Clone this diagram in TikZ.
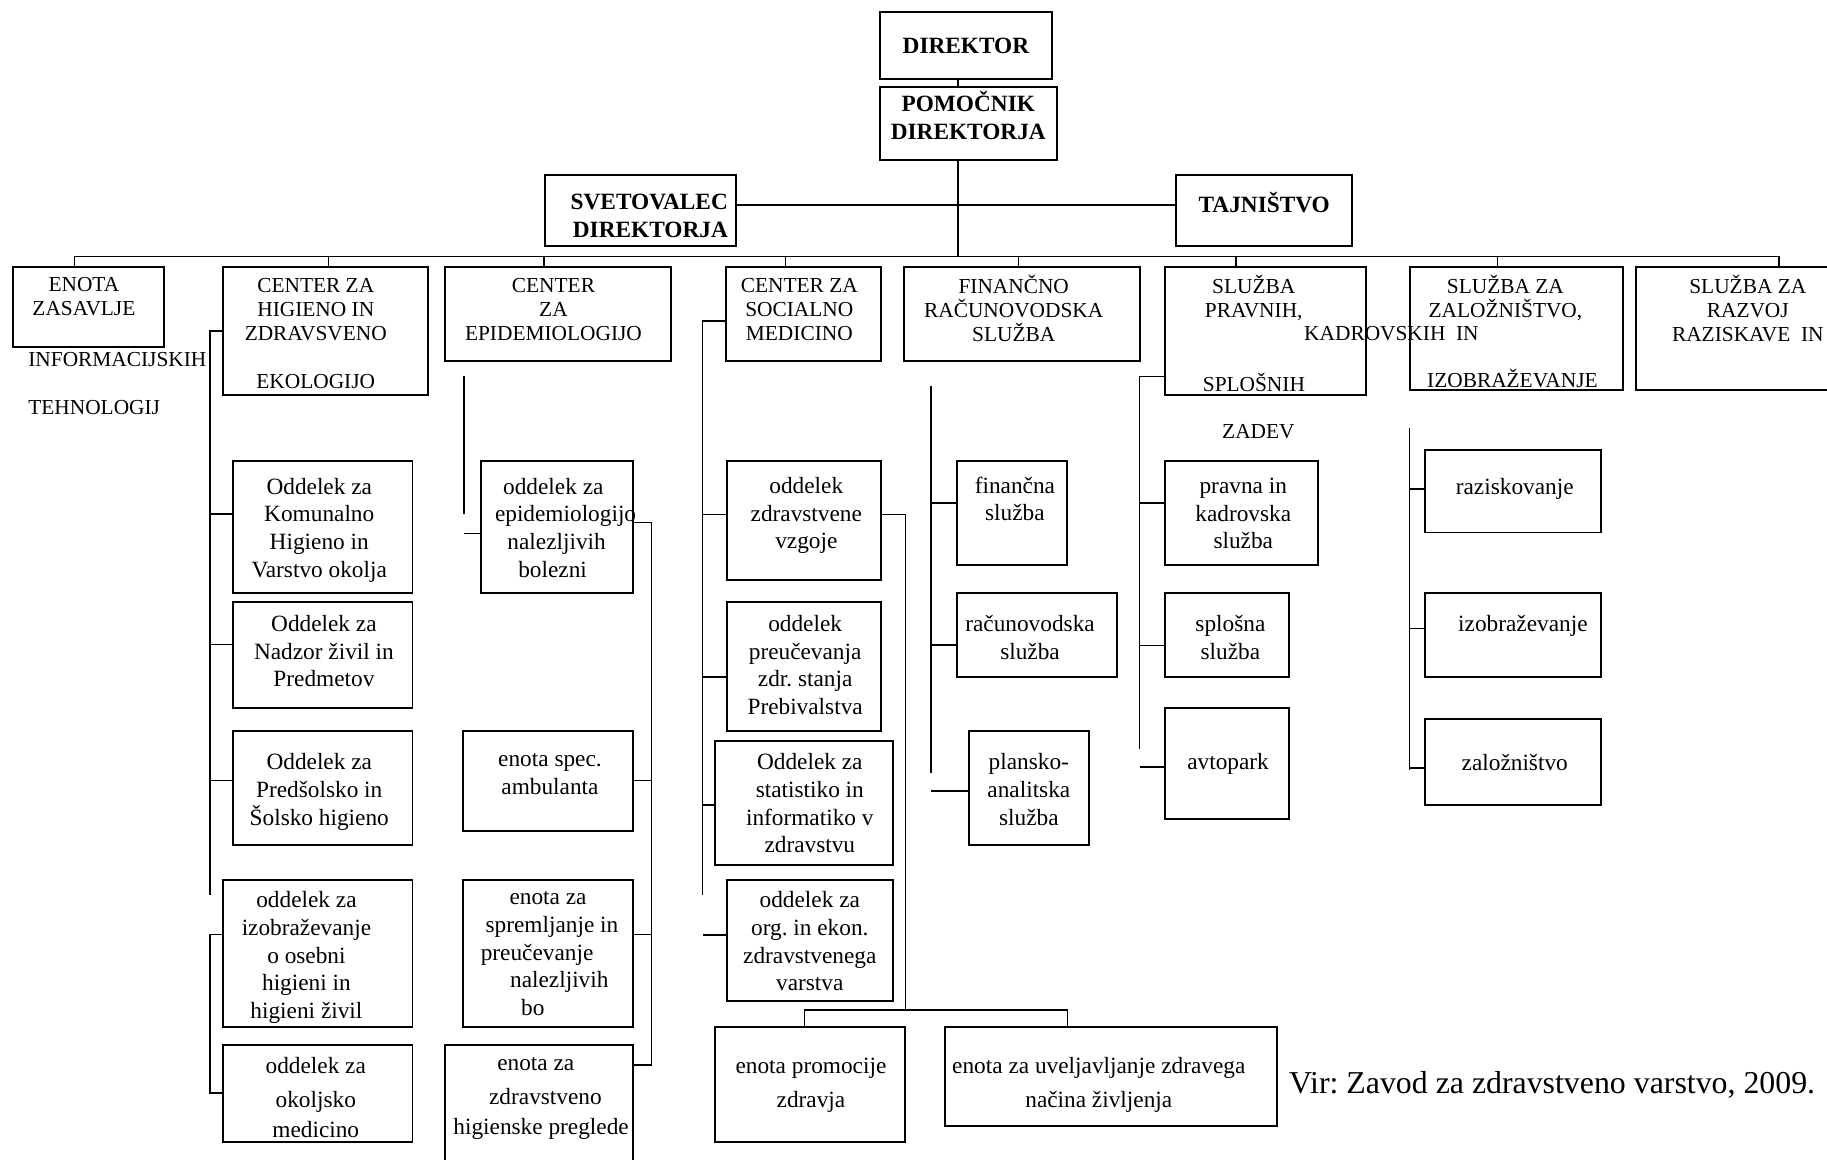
\documentclass[tikz,border=0pt]{standalone}
\usepackage{fontspec}
\setmainfont{Liberation Serif}
\usepackage{tikz}
\usetikzlibrary{positioning}
\frenchspacing
\tikzset{
    orgbox/.style = {rectangle, draw=black, line width=1pt, inner sep=0pt},
    txt/.style = {align=center, inner sep=0pt, anchor=north, font=\fontsize{12}{14.2}\selectfont},
    htxt/.style = {align=center, inner sep=0pt, anchor=north, font=\fontsize{11}{12.3}\selectfont},
    btxt/.style = {align=center, inner sep=0pt, anchor=north, font=\fontsize{12}{14.4}\selectfont\bfseries},
}

\begin{document}
\begin{tikzpicture}[
	x=0.6pt,
	y=-0.6pt
]
\tikzset{
    ln/.style = {-, line width=0.8pt}
}
\useasboundingbox (0,0) rectangle (1568,995);
% top
\node[orgbox, minimum width=88.8pt, minimum height=34.8pt] at (829,39) (dir) {};
\node[orgbox, minimum width=91.2pt, minimum height=37.2pt] at (831,106) (pom) {};
\node[orgbox, minimum width=98.4pt, minimum height=36.6pt] at (550,180.5) (svet) {};
\node[orgbox, minimum width=90.6pt, minimum height=36.6pt] at (1084.5,180.5) (tajn) {};
\node[btxt] at (829,32) (dirt) {DIREKTOR};
\node[btxt] at (831,78) (pomt) {POMOČNIK\\DIREKTORJA};
\node[btxt, align=right, anchor=north east] at (625,166) (svett) {SVETOVALEC\\DIREKTORJA};
\node[btxt] at (1085,165) (tajnt) {TAJNIŠTVO};
%
\node[orgbox, minimum width=78pt, minimum height=41.4pt] at (76,263.5) (enota) {};
\node[orgbox, minimum width=105.6pt, minimum height=66pt] at (279,284) (chig) {};
\node[orgbox, minimum width=116.4pt, minimum height=48.6pt] at (479,269.5) (cepi) {};
\node[orgbox, minimum width=79.8pt, minimum height=48.6pt] at (689.5,269.5) (csoc) {};
\node[orgbox, minimum width=121.2pt, minimum height=48.6pt] at (877,269.5) (fin) {};
\node[orgbox, minimum width=103.2pt, minimum height=66pt] at (1086,284) (prav) {};
\node[orgbox, minimum width=109.8pt, minimum height=63.6pt] at (1301.5,282) (zal) {};
\node[orgbox, minimum width=111.6pt, minimum height=63.6pt] at (1497,282) (razv) {};
%
\node[htxt] at (72,238) (enotat) {ENOTA\\ZASAVLJE};
\node[htxt, align=left, anchor=north west] at (24,302) (enotax) {INFORMACIJSKIH\\[12.3pt]TEHNOLOGIJ};
\node[htxt] at (271,238.6) (chigt) {CENTER ZA\\HIGIENO IN\\ZDRAVSVENO\\[12.3pt]EKOLOGIJO};
\node[htxt] at (475,238.6) (cepit) {CENTER\\ZA\\EPIDEMIOLOGIJO};
\node[htxt] at (686,238.6) (csoct) {CENTER ZA\\SOCIALNO\\MEDICINO};
\node[htxt] at (870,236) (fint) {FINANČNO\\RAČUNOVODSKA\\SLUŽBA};
\node[htxt] at (1076,236) (pravt) {SLUŽBA\\PRAVNIH,};
\node[htxt, anchor=north west] at (1119,279.6) (pravk) {KADROVSKIH\ \ IN};
\node[htxt, anchor=north west] at (1032,320) (pravs) {SPLOŠNIH};
\node[htxt] at (1080,363.6) (pravz) {ZADEV};
\node[htxt] at (1292,236) (zalt) {SLUŽBA ZA\\ZALOŽNIŠTVO,};
\node[htxt] at (1298,316.5) (zali) {IZOBRAŽEVANJE};
\node[htxt] at (1500,236) (razvt) {SLUŽBA ZA\\RAZVOJ\\RAZISKAVE\ \ IN};
% higiena
\node[orgbox, minimum width=92.4pt, minimum height=67.8pt] at (277,452.5) (hig1) {};
\node[orgbox, minimum width=92.4pt, minimum height=54.6pt] at (277,562.5) (hig2) {};
\node[orgbox, minimum width=92.4pt, minimum height=58.8pt] at (277,676) (hig3) {};
\node[orgbox, minimum width=97.8pt, minimum height=75.6pt] at (272.5,818) (hig4) {};
\node[orgbox, minimum width=97.8pt, minimum height=49.8pt] at (272.5,938.5) (hig5) {};
\node[txt] at (274,410) (hig1t) {Oddelek za\\Komunalno\\Higieno in\\Varstvo okolja};
\node[txt] at (278,528) (hig2t) {Oddelek za\\Nadzor živil in\\Predmetov};
\node[txt] at (274,646.6) (hig3t) {Oddelek za\\Predšolsko in\\Šolsko higieno};
\node[txt] at (263,765) (hig4t) {oddelek za\\izobraževanje\\o osebni\\higieni in\\higieni živil};
\node[txt] at (271,907.5) (hig5t) {oddelek za\\[3.2pt]okoljsko\\[1pt]medicino};
% epidemiologija
\node[orgbox, minimum width=78pt, minimum height=67.8pt] at (478,452.5) (epi1) {};
\node[orgbox, minimum width=87.6pt, minimum height=51.6pt] at (470,670) (epi2) {};
\node[orgbox, minimum width=87.6pt, minimum height=75.6pt] at (470,818) (epi3) {};
\node[orgbox, minimum width=96.6pt, minimum height=67.8pt] at (462.5,953.5) (epi4) {};
\node[txt, align=left, anchor=north west] at (424.5,410) (epi1t) {\hspace{4.2pt}oddelek za\\epidemiologijo\\\hspace{6.4pt}nalezljivih\\\hspace{12pt}bolezni};
\node[txt] at (472,646.6) (epi2t) {enota spec.\\ambulanta};
\node[txt, align=left, anchor=north west] at (412.3,765) (epi3t) {\hspace{14.8pt}enota za\\\hspace{2.5pt}spremljanje in\\preučevanje\\\hspace{15.1pt}nalezljivih\\\hspace{20.8pt}bo};
\node[txt, align=left, anchor=north west] at (388.8,907.5) (epi4t) {\hspace{22.6pt}enota za\\[3.2pt]\hspace{18.4pt}zdravstveno\\[1pt]higienske preglede};
% socialna medicina
\node[orgbox, minimum width=79.2pt, minimum height=61.2pt] at (690,447) (soc1) {};
\node[orgbox, minimum width=79.2pt, minimum height=66pt] at (690,572) (soc2) {};
\node[orgbox, minimum width=91.2pt, minimum height=63.6pt] at (690,689) (soc3) {};
\node[orgbox, minimum width=85.2pt, minimum height=62.4pt] at (695,807) (soc4) {};
\node[orgbox, minimum width=97.8pt, minimum height=59.4pt] at (695.5,930.5) (soc5) {};
\node[orgbox, minimum width=171pt, minimum height=51pt] at (953.5,923.5) (soc6) {};
\node[txt] at (692,409.3) (soc1t) {oddelek\\zdravstvene\\vzgoje};
\node[txt] at (691,528) (soc2t) {oddelek\\preučevanja\\zdr. stanja\\Prebivalstva};
\node[txt] at (695,646.6) (soc3t) {Oddelek za\\statistiko in\\informatiko v\\zdravstvu};
\node[txt] at (695,765) (soc4t) {oddelek za\\org. in ekon.\\zdravstvenega\\varstva};
\node[txt] at (696,907.5) (soc5t) {enota promocije\\[3.2pt]zdravja};
\node[txt] at (943,907.5) (soc6t) {enota za uveljavljanje zdravega\\[3.2pt]načina življenja};
% finance
\node[orgbox, minimum width=57pt, minimum height=53.4pt] at (868.5,440.5) (fin1) {};
\node[orgbox, minimum width=82.8pt, minimum height=43.2pt] at (890,545) (fin2) {};
\node[orgbox, minimum width=61.8pt, minimum height=58.8pt] at (883.5,676) (fin3) {};
\node[txt] at (871,409) (fin1t) {finančna\\služba};
\node[txt] at (884,528) (fin2t) {računovodska\\služba};
\node[txt] at (883,646.6) (fin3t) {plansko-\\analitska\\služba};
% pravna sluzba
\node[orgbox, minimum width=78.6pt, minimum height=53.4pt] at (1065.5,440.5) (prav1) {};
\node[orgbox, minimum width=63.6pt, minimum height=43.2pt] at (1053,545) (prav2) {};
\node[orgbox, minimum width=63.6pt, minimum height=57pt] at (1053,655.5) (prav3) {};
\node[txt] at (1067,410) (prav1t) {pravna in\\kadrovska\\služba};
\node[txt] at (1056,528) (prav2t) {splošna\\služba};
\node[txt] at (1054,646.6) (prav3t) {avtopark};
% zaloznistvo
\node[orgbox, minimum width=90.6pt, minimum height=42.6pt] at (1298.5,421.5) (zal1) {};
\node[orgbox, minimum width=90.6pt, minimum height=43.2pt] at (1298.5,545) (zal2) {};
\node[orgbox, minimum width=90.6pt, minimum height=44.4pt] at (1298.5,654) (zal3) {};
\node[txt] at (1300,410) (zal1t) {raziskovanje};
\node[txt] at (1307,528) (zal2t) {izobraževanje};
\node[txt] at (1300,646.6) (zal3t) {založništvo};
%
\node[anchor=west, inner sep=0pt, font=\fontsize{16.4}{19}\selectfont] at (1106,931) (vir) {Vir: Zavod za zdravstveno varstvo, 2009.};
% points on the lines
\coordinate (trunk) at (822,220);
\coordinate (side) at (822,176);
\coordinate (b1) at (64,220);
\coordinate (b2) at (282,220);
\coordinate (b3) at (467,220);
\coordinate (b4) at (674,220);
\coordinate (b5) at (874,220);
\coordinate (b6) at (1061,220);
\coordinate (b7) at (1285,220);
\coordinate (b8) at (1527,220);
%
\draw[ln] (dir.south -| trunk) -- (pom.north -| trunk);
\draw[ln] (pom.south -| trunk) -- (trunk);
\draw[ln] (svet.east |- side) -- (tajn.west |- side);
\draw[ln] (b1) -- (b8);
\draw[ln] (b1) -- (b1 |- enota.north);
\draw[ln] (b2) -- (b2 |- chig.north);
\draw[ln] (b3) -- (b3 |- cepi.north);
\draw[ln] (b4) -- (b4 |- csoc.north);
\draw[ln] (b5) -- (b5 |- fin.north);
\draw[ln] (b6) -- (b6 |- prav.north);
\draw[ln] (b7) -- (b7 |- zal.north);
\draw[ln] (b8) -- (b8 |- razv.north);
%
\coordinate (hA0) at (180,284);
\coordinate (hA1) at (180,441);
\coordinate (hA2) at (180,553);
\coordinate (hA3) at (180,670);
\coordinate (hA9) at (180,768);
\coordinate (hA4) at (180,802);
\coordinate (hA5) at (180,938);
\draw[ln] (hA0 -| chig.west) -- (hA0) -- (hA9);
\draw[ln] (hA1) -- (hA1 -| hig1.west);
\draw[ln] (hA2) -- (hA2 -| hig2.west);
\draw[ln] (hA3) -- (hA3 -| hig3.west);
\draw[ln] (hA4 -| hig4.west) -- (hA4) -- (hA5) -- (hA5 -| hig5.west);
%
\coordinate (eA0) at (398,323);
\coordinate (eA1) at (398,441);
\coordinate (eA2) at (398,458);
\coordinate (eB0) at (559,448.6);
\coordinate (eB2) at (559,670);
\coordinate (eB3) at (559,802);
\coordinate (eB4) at (559,914);
\draw[ln] (eA0) -- (eA1);
\draw[ln] (eA2) -- (eA2 -| epi1.west);
\draw[ln] (eB0 -| epi1.east) -- (eB0) -- (eB4) -- (eB4 -| epi4.east);
\draw[ln] (eB2) -- (eB2 -| epi2.east);
\draw[ln] (eB3) -- (eB3 -| epi3.east);
%
\coordinate (sA0) at (603,275.5);
\coordinate (sA1) at (603,441.5);
\coordinate (sA2) at (603,581);
\coordinate (sA3) at (603,691);
\coordinate (sA9) at (603,768);
\coordinate (sA4) at (603,802.5);
\coordinate (sB0) at (777,441.4);
\coordinate (sB9) at (777,867);
\coordinate (sC5) at (690.5,867);
\coordinate (sC6) at (916,867);
\draw[ln] (sA0 -| csoc.west) -- (sA0) -- (sA9);
\draw[ln] (sA1) -- (sA1 -| soc1.west);
\draw[ln] (sA2) -- (sA2 -| soc2.west);
\draw[ln] (sA3) -- (sA3 -| soc3.west);
\draw[ln] (sA4) -- (sA4 -| soc4.west);
\draw[ln] (sB0 -| soc1.east) -- (sB0) -- (sB9);
\draw[ln] (sC5 |- soc5.north) -- (sC5) -- (sC6) -- (sC6 |- soc6.north);
%
\coordinate (fA0) at (799,331);
\coordinate (fA1) at (799,431.5);
\coordinate (fA2) at (799,553.4);
\coordinate (fA9) at (799,663);
\coordinate (fA3) at (799,679);
\draw[ln] (fA0) -- (fA9);
\draw[ln] (fA1) -- (fA1 -| fin1.west);
\draw[ln] (fA2) -- (fA2 -| fin2.west);
\draw[ln] (fA3) -- (fA3 -| fin3.west);
%
\coordinate (pA0) at (978,323);
\coordinate (pA1) at (978,431.7);
\coordinate (pA2) at (978,554);
\coordinate (pA9) at (978,642.4);
\coordinate (pA3) at (978,658.3);
\draw[ln] (pA0 -| prav.west) -- (pA0) -- (pA9);
\draw[ln] (pA1) -- (pA1 -| prav1.west);
\draw[ln] (pA2) -- (pA2 -| prav2.west);
\draw[ln] (pA3) -- (pA3 -| prav3.west);
%
\coordinate (zA0) at (1209.5,367.4);
\coordinate (zA1) at (1209.5,419.7);
\coordinate (zA2) at (1209.5,539.4);
\coordinate (zA3) at (1209.5,659);
\coordinate (zA9) at (1209.5,661);
\draw[ln] (zA0) -- (zA9);
\draw[ln] (zA1) -- (zA1 -| zal1.west);
\draw[ln] (zA2) -- (zA2 -| zal2.west);
\draw[ln] (zA3) -- (zA3 -| zal3.west);
\end{tikzpicture}
\end{document}
